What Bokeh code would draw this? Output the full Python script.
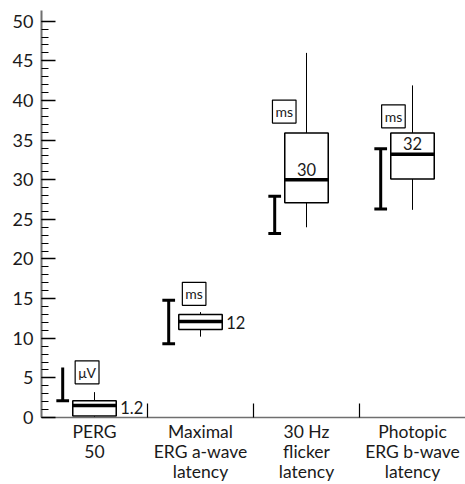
from bokeh.plotting import figure
from bokeh.models import FixedTicker, Range1d, Label, LinearAxis
from bokeh.embed import file_html
from bokeh.resources import INLINE
from bokeh.core.properties import value

# ---- data ----
categories = ["PERG\n50", "Maximal\nERG a-wave\nlatency", "30 Hz\nflicker\nlatency", "Photopic\nERG b-wave\nlatency"]
units = ["μV", "ms", "ms", "ms"]
q1 = [0.2, 11.1, 27.1, 30.1]
median = [1.5, 12.1, 30.0, 33.2]
q3 = [2.1, 13.0, 35.9, 35.9]
whisk_lo = [0.0, 10.2, 24.0, 26.2]
whisk_hi = [3.2, 13.3, 46.0, 41.9]
ref_lo = [2.1, 9.3, 23.2, 26.3]
ref_hi = [6.3, 14.8, 27.9, 33.9]
median_labels = ["1.2", "12", "30", "32"]
y_ticks = list(range(0, 51, 5))

FONT = "Lato"
n = len(categories)
centers = [i + 0.5 for i in range(n)]

p = figure(width=465, height=484, output_backend="svg", toolbar_location=None,
           x_range=Range1d(0, n), y_range=Range1d(0, 51.35),
           min_border_left=41, min_border_right=0, min_border_top=10, min_border_bottom=67)
p.outline_line_color = None
p.grid.visible = False
p.background_fill_color = "white"

# y axis
ya = p.yaxis[0]
ya.ticker = FixedTicker(ticks=y_ticks, minor_ticks=list(range(0, 51)))
ya.major_tick_in = 14
ya.major_tick_out = 0
ya.minor_tick_in = 7
ya.minor_tick_out = 0
ya.axis_line_color = "#6f6f6f"
ya.axis_line_width = 2
ya.major_tick_line_color = "black"
ya.major_tick_line_width = 1.5
ya.minor_tick_line_color = "black"
ya.minor_tick_line_width = 1.2
ya.major_label_text_font = FONT
ya.major_label_text_font_size = "18px"
ya.major_label_text_color = "#1a1a1a"
ya.major_label_standoff = 8

# x axis: one axis row per text line of the category labels
lines = [lab.split("\n") for lab in categories]
n_lines = max(len(l) for l in lines)
standoffs = [3, -4, -4]

def style_labels(ax, j):
    ax.major_label_overrides = {c: (l[j] if j < len(l) else "") for c, l in zip(centers, lines)}
    ax.major_label_text_font = FONT
    ax.major_label_text_font_size = "17.5px"
    ax.major_label_text_color = "#1a1a1a"
    ax.major_label_standoff = standoffs[j]

xa = p.xaxis[0]
xa.ticker = FixedTicker(ticks=centers, minor_ticks=[i for i in range(1, n)])
xa.major_tick_line_color = None
xa.major_tick_in = 0
xa.major_tick_out = 0
xa.minor_tick_in = 14
xa.minor_tick_out = 0
xa.minor_tick_line_color = "black"
xa.minor_tick_line_width = 1.2
xa.axis_line_color = "#6f6f6f"
xa.axis_line_width = 1.5
style_labels(xa, 0)

for j in range(1, n_lines):
    ax = LinearAxis(ticker=FixedTicker(ticks=centers, minor_ticks=[]))
    ax.axis_line_color = None
    ax.major_tick_line_color = None
    ax.minor_tick_line_color = None
    ax.major_tick_in = 0
    ax.major_tick_out = 0
    ax.minor_tick_in = 0
    ax.minor_tick_out = 0
    style_labels(ax, j)
    p.add_layout(ax, "below")

hw = 0.205
ex = [c - 0.3 for c in centers]

# whiskers
p.segment(x0=centers, y0=q3, x1=centers, y1=whisk_hi, line_color="black", line_width=1)
p.segment(x0=centers, y0=whisk_lo, x1=centers, y1=q1, line_color="black", line_width=1)
# boxes
p.quad(left=[c - hw for c in centers], right=[c + hw for c in centers], bottom=q1, top=q3,
       fill_color="white", line_color="black", line_width=1.5)
# medians
p.segment(x0=[c - hw for c in centers], y0=median, x1=[c + hw for c in centers], y1=median,
          line_color="black", line_width=3.5)
# reference range bars
p.segment(x0=ex, y0=ref_lo, x1=ex, y1=ref_hi, line_color="black", line_width=3)
cap = 0.06
p.segment(x0=[x - cap for x in ex], y0=ref_lo, x1=[x + cap for x in ex], y1=ref_lo,
          line_color="black", line_width=3)
p.segment(x0=[x - cap for x in ex[1:]], y0=ref_hi[1:], x1=[x + cap for x in ex[1:]], y1=ref_hi[1:],
          line_color="black", line_width=3)

# median labels
side_idx = [0, 1]
top_idx = [2, 3]
p.text(x=[centers[i] + hw for i in side_idx], y=[float(median_labels[i]) for i in side_idx],
       text=[median_labels[i] for i in side_idx], x_offset=4,
       text_align="left", text_baseline="middle", text_font=value(FONT),
       text_font_size="16.5px", text_color="#1a1a1a")
p.text(x=[centers[i] for i in top_idx], y=[median[i] for i in top_idx],
       text=[median_labels[i] for i in top_idx], y_offset=-4,
       text_align="center", text_baseline="bottom", text_font=value(FONT),
       text_font_size="16.5px", text_color="#1a1a1a")

# unit tags (annotation placement)
tag_dx = [-0.07, -0.06, -0.21, -0.18]
tag_y = [5.7, 15.6, 38.6, 38.0]
for c, dx, ty, u in zip(centers, tag_dx, tag_y, units):
    p.add_layout(Label(x=c + dx, y=ty, text=u, text_align="center", text_baseline="middle",
                       text_font=FONT, text_font_size="14px", text_color="#1a1a1a",
                       border_line_color="black", border_line_width=1.2,
                       background_fill_color="white", padding=3))

open("out.html", "w").write(file_html(p, INLINE))
